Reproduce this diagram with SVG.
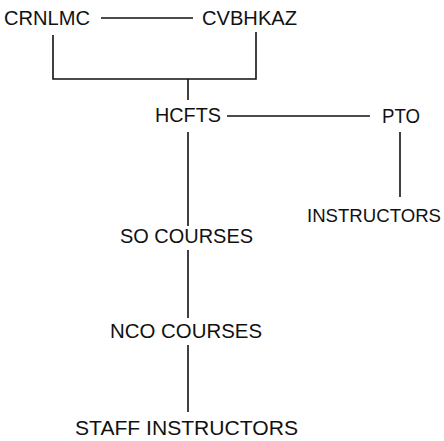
<svg xmlns="http://www.w3.org/2000/svg" width="444" height="441" viewBox="0 0 444 441">
<style>
text{font-family:"Liberation Sans",Arial,sans-serif;font-size:20px;fill:#111}
text.sm{font-size:18px}
.c line,.c path{stroke:#111;stroke-width:1.6;fill:none}
</style>
<rect width="444" height="441" fill="#fff"/>
<g class="c" id="connectors">
<line x1="101" y1="18" x2="193" y2="18"/>
<path d="M53 35 V79 H256 V32"/>
<line x1="188" y1="79" x2="188" y2="100"/>
<line x1="227" y1="116" x2="370" y2="116"/>
<line x1="400" y1="132" x2="400" y2="197"/>
<line x1="188" y1="132" x2="188" y2="226"/>
<line x1="188" y1="250" x2="188" y2="318"/>
<line x1="188" y1="345" x2="188" y2="412"/>
</g>
<g id="crnlmc"><text x="4" y="25" textLength="86" lengthAdjust="spacingAndGlyphs">CRNLMC</text></g>
<g id="cvbhkaz"><text x="202" y="25" textLength="95" lengthAdjust="spacingAndGlyphs">CVBHKAZ</text></g>
<g id="hcfts"><text x="155" y="122" textLength="66" lengthAdjust="spacingAndGlyphs">HCFTS</text></g>
<g id="pto"><text x="382" y="123" textLength="38" lengthAdjust="spacingAndGlyphs">PTO</text></g>
<g id="instructors"><text class="sm" x="307" y="222" textLength="134" lengthAdjust="spacingAndGlyphs">INSTRUCTORS</text></g>
<g id="so-courses"><text x="120" y="243" textLength="133" lengthAdjust="spacingAndGlyphs">SO COURSES</text></g>
<g id="nco-courses"><text x="110" y="338" textLength="152" lengthAdjust="spacingAndGlyphs">NCO COURSES</text></g>
<g id="staff-instructors"><text x="75" y="435" textLength="223" lengthAdjust="spacingAndGlyphs">STAFF INSTRUCTORS</text></g>
</svg>
